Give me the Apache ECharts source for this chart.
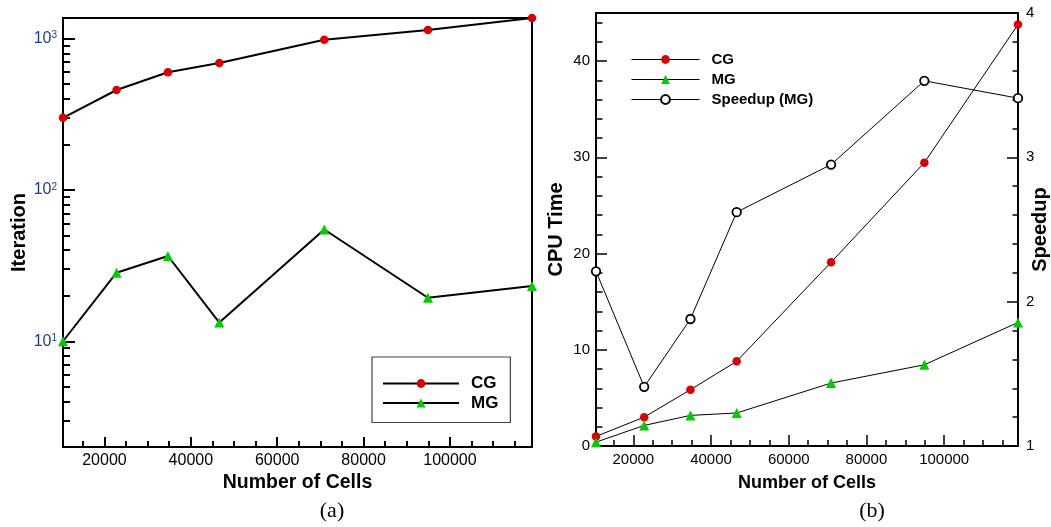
<!DOCTYPE html>
<html><head><meta charset="utf-8">
<script src="https://cdn.jsdelivr.net/npm/echarts@6/dist/echarts.min.js"></script>
<style>html,body{margin:0;padding:0;background:#fff}#c{width:1051px;height:527px}</style>
</head><body><div id="c"></div>
<script>
// ---- data ----
const cells = [10400, 22800, 34700, 46600, 70900, 94900, 119000];
const iterCG = [300, 458, 600, 691, 985, 1141, 1370];
const iterMG = [10, 28.4, 36.6, 13.3, 54.8, 19.4, 23.2];
const timeCG = [1.0, 3.0, 5.85, 8.8, 19.1, 29.45, 43.8];
const timeMG = [0.4, 2.14, 3.18, 3.43, 6.54, 8.44, 12.84];
const speedupMG = [2.21, 1.41, 1.88, 2.62, 2.95, 3.53, 3.41];
// ---- tick labels ----
const xMajorTicks = [20000, 40000, 60000, 80000, 100000];
const iterMajorTicks = [10, 100, 1000];
const timeMajorTicks = [0, 10, 20, 30, 40];
const speedupMajorTicks = [1, 2, 3, 4];

const xMinorTicks = [];
for (let v = 15000; v <= 115000; v += 5000) xMinorTicks.push(v);
const iterMinorTicks = [];
[1, 10, 100].forEach(d => { for (let m = 2; m <= 9; m++) { const v = m * d; if (v >= 2 && v <= 1370) iterMinorTicks.push(v); } });
const timeMinorTicks = [];
for (let v = 2; v <= 44; v += 2) timeMinorTicks.push(v);
const speedupMinorTicks = [];
for (let k = 6; k <= 19; k++) speedupMinorTicks.push(Math.round(k * 2) / 10);

const F = "'Liberation Sans', Arial, Helvetica, sans-serif";
const pairs = ys => cells.map((x, i) => [x, ys[i]]);

function axisX(grid, major, o) {
  return {
    type: 'value', gridIndex: grid, min: 10400, max: 119000, position: 'bottom',
    axisLine: { show: major, onZero: false, lineStyle: { color: '#000', width: 2 } },
    axisTick: { show: true, inside: true, length: major ? o.tickLen : o.minorLen,
      customValues: major ? xMajorTicks : xMinorTicks, lineStyle: { color: '#000', width: o.tickW } },
    axisLabel: { show: major, customValues: xMajorTicks, margin: o.margin, color: '#000', fontFamily: F,
      fontSize: o.labelSize, formatter: v => String(v) },
    splitLine: { show: false },
    name: major ? 'Number of Cells' : '', nameLocation: 'middle', nameGap: o.nameGap, nameMoveOverlap: false,
    nameTextStyle: { fontFamily: F, fontWeight: 'bold', fontSize: o.nameSize, color: '#000' }
  };
}

function axisY(grid, major, o) {
  const a = {
    type: o.type || 'value', gridIndex: grid, min: o.min, max: o.max, position: o.position || 'left',
    axisLine: { show: major, onZero: false, lineStyle: { color: '#000', width: 2 } },
    axisTick: { show: true, inside: true, length: major ? o.tickLen : o.minorLen,
      customValues: major ? o.majors : o.minors, lineStyle: { color: '#000', width: o.tickW } },
    axisLabel: { show: major, customValues: o.majors, margin: o.margin, color: o.labelColor || '#000',
      fontFamily: F, fontSize: o.labelSize, formatter: o.formatter || (v => String(v)) },
    splitLine: { show: false },
    name: major ? o.name : '', nameLocation: 'middle', nameGap: o.nameGap, nameMoveOverlap: false,
    nameTextStyle: { fontFamily: F, fontWeight: 'bold', fontSize: 20, color: '#000' }
  };
  if (o.type === 'log') a.logBase = 10;
  if (o.rich) { a.axisLabel.rich = o.rich; }
  return a;
}

const leftX = { tickLen: 10, minorLen: 6, tickW: 2, margin: 6, labelSize: 16, nameSize: 19.5, nameGap: 26 };
const rightX = { tickLen: 11, minorLen: 6, tickW: 1.5, margin: 6, labelSize: 15, nameSize: 18, nameGap: 28 };

const iterAxis = { type: 'log', min: 2, max: 1370, majors: iterMajorTicks, minors: iterMinorTicks,
  tickLen: 12, minorLen: 7, tickW: 2, margin: 6, labelSize: 16, labelColor: '#1c3d96',
  name: 'Iteration', nameGap: 34,
  formatter: v => '10{s|' + Math.round(Math.log10(v)) + '}',
  rich: { s: { fontSize: 10, verticalAlign: 'top', color: '#1c3d96', fontFamily: F, lineHeight: 14 } } };
const timeAxis = { min: 0, max: 45, majors: timeMajorTicks, minors: timeMinorTicks,
  tickLen: 11, minorLen: 6.5, tickW: 1.5, margin: 6, labelSize: 15, name: 'CPU Time', nameGap: 30 };
const spAxis = { min: 1, max: 4, position: 'right', majors: speedupMajorTicks, minors: speedupMinorTicks,
  tickLen: 11, minorLen: 5.5, tickW: 1.5, margin: 8, labelSize: 15, name: 'Speedup', nameGap: 12 };

const RED = '#dd0000', GREEN = '#00cc00';

const option = {
  backgroundColor: '#fff',
  animation: false,
  title: [
    { text: '(a)', left: 332, top: 500, textAlign: 'center', padding: 0,
      textStyle: { fontFamily: "'Liberation Serif', 'Times New Roman', serif", fontSize: 22, fontWeight: 'normal', color: '#000' } },
    { text: '(b)', left: 872, top: 500, textAlign: 'center', padding: 0,
      textStyle: { fontFamily: "'Liberation Serif', 'Times New Roman', serif", fontSize: 22, fontWeight: 'normal', color: '#000' } }
  ],
  grid: [
    { left: 63, top: 18, right: 519, bottom: 80, show: true, borderColor: '#000', borderWidth: 2,
      backgroundColor: 'transparent', outerBoundsMode: 'none', containLabel: false },
    { left: 596, top: 13, right: 33, bottom: 81, show: true, borderColor: '#000', borderWidth: 2,
      backgroundColor: 'transparent', outerBoundsMode: 'none', containLabel: false }
  ],
  legend: [
    { data: ['CG', 'MG'], orient: 'vertical', left: 372, top: 357, itemWidth: 76, itemHeight: 11, itemGap: 2.5,
      padding: [18, 12, 11, 10], borderColor: '#444', borderWidth: 1.2, backgroundColor: '#fff',
      textStyle: { fontFamily: F, fontWeight: 'bold', fontSize: 17, color: '#000', padding: [0, 0, 0, 7] },
      selectedMode: false },
    { data: [
        { name: 'CG', lineStyle: { width: 1 } },
        { name: 'MG', lineStyle: { width: 1 } },
        { name: 'Speedup (MG)', lineStyle: { width: 1 } }
      ], orient: 'vertical', left: 631, top: 52, itemWidth: 68, itemHeight: 11, itemGap: 5, padding: 0,
      textStyle: { fontFamily: F, fontWeight: 'bold', fontSize: 15, color: '#000', padding: [0, 0, 0, 7] },
      selectedMode: false }
  ],
  xAxis: [axisX(0, true, leftX), axisX(0, false, leftX), axisX(1, true, rightX), axisX(1, false, rightX)],
  yAxis: [axisY(0, true, iterAxis), axisY(0, false, iterAxis), axisY(1, true, timeAxis), axisY(1, false, timeAxis),
          axisY(1, true, spAxis), axisY(1, false, spAxis)],
  series: [
    { name: 'CG', type: 'line', xAxisIndex: 0, yAxisIndex: 0, data: pairs(iterCG), clip: false,
      symbol: 'circle', symbolSize: 8.5, itemStyle: { color: RED }, lineStyle: { color: '#000', width: 2 }, z: 3 },
    { name: 'MG', type: 'line', xAxisIndex: 0, yAxisIndex: 0, data: pairs(iterMG), clip: false,
      symbol: 'triangle', symbolSize: 10, itemStyle: { color: GREEN }, lineStyle: { color: '#000', width: 2 }, z: 3 },
    { name: 'CG', type: 'line', xAxisIndex: 2, yAxisIndex: 2, data: pairs(timeCG), clip: false,
      symbol: 'circle', symbolSize: 8.5, itemStyle: { color: RED }, lineStyle: { color: '#000', width: 1 }, z: 3 },
    { name: 'MG', type: 'line', xAxisIndex: 2, yAxisIndex: 2, data: pairs(timeMG), clip: false,
      symbol: 'triangle', symbolSize: 10, itemStyle: { color: GREEN }, lineStyle: { color: '#000', width: 1 }, z: 3 },
    { name: 'Speedup (MG)', type: 'line', xAxisIndex: 2, yAxisIndex: 4, data: pairs(speedupMG), clip: false,
      symbol: 'circle', symbolSize: 8.5, itemStyle: { color: '#fff', borderColor: '#000', borderWidth: 1.8 },
      lineStyle: { color: '#000', width: 1 }, z: 3 }
  ]
};
const chart = echarts.init(document.getElementById('c'), null, { renderer: 'canvas' });
chart.setOption(option);
</script></body></html>
